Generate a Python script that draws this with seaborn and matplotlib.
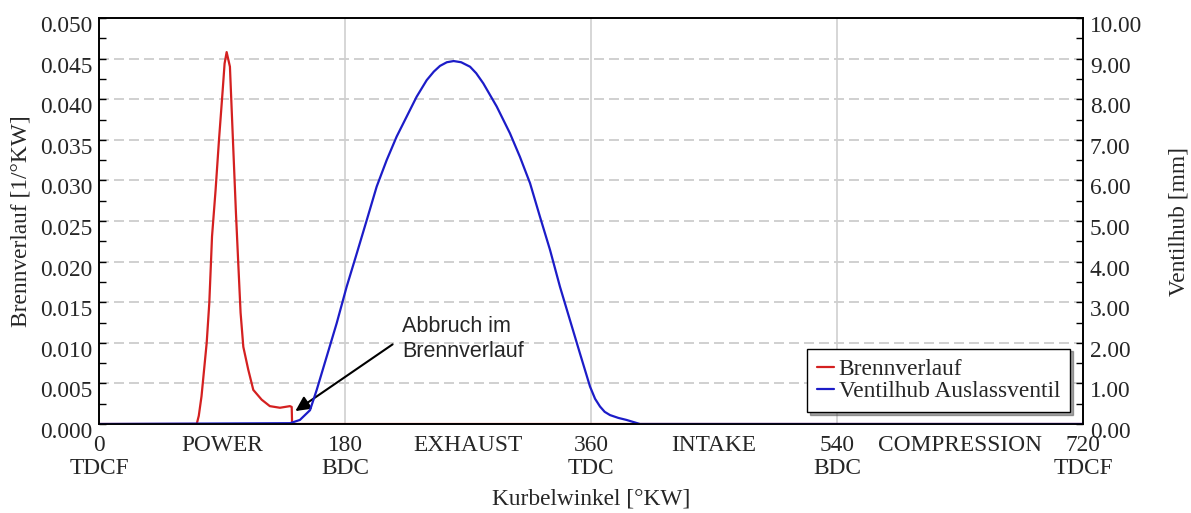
import numpy as np
import pandas as pd
import matplotlib
matplotlib.use("Agg")
import matplotlib.pyplot as plt
import matplotlib.transforms as mtransforms
from matplotlib.lines import Line2D
import seaborn as sns

# ---------------- data ----------------
burn_angle = [0, 71.5, 73.0, 75.0, 78.8, 80.7, 82.0, 82.7, 85.3, 87.8, 90.5, 91.9, 93.4,
              95.8, 97.7, 100.2, 101.9, 103.6, 105.6, 109.2, 112.9, 119.0, 125.0,
              132.4, 139.7, 141.0, 141.3, 720]
burn_rate = [0, 0, 0.0010, 0.0034, 0.0100, 0.0149, 0.0202, 0.0231, 0.0288, 0.0350, 0.0411,
             0.0444, 0.0458, 0.0440, 0.0362, 0.0260, 0.0198, 0.0137, 0.0095, 0.0067,
             0.0042, 0.0030, 0.0022, 0.0020, 0.0022, 0.0021, 0.0, 0.0]

lift_angle = [0, 139.8, 147.0, 154.4, 159.3, 166.6, 173.9, 181.2, 188.6, 195.9, 203.2,
              210.5, 217.8, 225.1, 232.4, 239.8, 245.0, 249.5, 254.5, 259.5, 265.0,
              271.5, 276.0, 281.2, 291.0, 300.7, 308.0, 315.4, 322.7, 330.0, 337.3,
              344.6, 351.9, 359.3, 363.0, 366.6, 370.0, 373.9, 380.0, 386.0, 395.8, 720]
valve_lift = [0, 0.02, 0.10, 0.34, 0.84, 1.66, 2.48, 3.38, 4.20, 5.02, 5.85, 6.50, 7.08,
              7.57, 8.06, 8.47, 8.68, 8.82, 8.91, 8.94, 8.91, 8.80, 8.64, 8.39, 7.82,
              7.16, 6.58, 5.93, 5.10, 4.29, 3.38, 2.56, 1.74, 0.92, 0.62, 0.43, 0.30,
              0.22, 0.15, 0.10, 0.0, 0.0]

x_tick_pos = [0, 90, 180, 270, 360, 450, 540, 630, 720]
x_tick_labels = ["0\nTDCF", "POWER", "180\nBDC", "EXHAUST", "360\nTDC",
                 "INTAKE", "540\nBDC", "COMPRESSION", "720\nTDCF"]
left_ticks = [0.000, 0.005, 0.010, 0.015, 0.020, 0.025, 0.030, 0.035, 0.040, 0.045, 0.050]
right_ticks = [0, 1, 2, 3, 4, 5, 6, 7, 8, 9, 10]
vlines_at = [180, 360, 540]

series_names = ["Brennverlauf", "Ventilhub Auslassventil"]
annot_text = "Abbruch im\nBrennverlauf"

df_burn = pd.DataFrame({"angle": burn_angle, "value": burn_rate})
df_lift = pd.DataFrame({"angle": lift_angle, "value": valve_lift})

# ---------------- style ----------------
sns.set_style("white")
plt.rcParams['font.family'] = ['Liberation Serif', 'DejaVu Serif']
plt.rcParams['axes.unicode_minus'] = False

RED = "#d42020"
BLUE = "#1c1cc8"
FS = 16.8

fig = plt.figure(figsize=(11.91, 5.13), dpi=100)
ax = fig.add_axes([99 / 1191, 1 - 424 / 513, (1083 - 99) / 1191, (424 - 18) / 513])
ax2 = ax.twinx()

sns.lineplot(data=df_burn, x="angle", y="value", ax=ax, color=RED, lw=1.6, sort=False)
sns.lineplot(data=df_lift, x="angle", y="value", ax=ax2, color=BLUE, lw=1.6, sort=False)

ax.set_xlim(0, 720)
ax.set_ylim(0, 0.05)
ax2.set_ylim(0, 10)

# grid
for y in left_ticks[1:-1]:
    ax.axhline(y, color="#c8c8c8", lw=1.2, ls=(0, (6, 3)), zorder=0)
for xv in vlines_at:
    ax.axvline(xv, color="#cfcfcf", lw=1.2, zorder=0)

# ticks
ax.set_xticks(x_tick_pos)
ax.set_xticklabels(x_tick_labels, fontsize=FS)
ax.set_xticks(np.arange(45, 720, 90), minor=True)
ax.set_yticks(left_ticks)
ax.set_yticklabels([f"{v:.3f}" for v in left_ticks], fontsize=FS)
ax.set_yticks(np.arange(0.0025, 0.05, 0.005), minor=True)
ax2.set_yticks(right_ticks)
ax2.set_yticklabels([f"{v:.2f}" for v in right_ticks], fontsize=FS)
ax2.set_yticks(np.arange(0.5, 10, 1.0), minor=True)

for a in (ax, ax2):
    a.tick_params(which="both", direction="in", length=5, width=1, color="black", pad=5)
    for s in a.spines.values():
        s.set_color("black")
        s.set_linewidth(1.2)
ax.tick_params(axis="x", pad=8)
for t in ax.get_xticklabels():
    t.set_linespacing(1.12)

# shift y tick labels slightly down like reference
offset = mtransforms.ScaledTranslation(0, -0.06, fig.dpi_scale_trans)
for t in ax.get_yticklabels() + ax2.get_yticklabels():
    t.set_transform(t.get_transform() + offset)

ax.set_xlabel("Kurbelwinkel [°KW]", fontsize=FS, labelpad=7)
ax.set_ylabel("Brennverlauf [1/°KW]", fontsize=FS, labelpad=6)
ax2.set_ylabel("Ventilhub [mm]", fontsize=FS, labelpad=19)

# annotation
ax.annotate("", xy=(142, 0.0014), xytext=(216.5, 0.0100),
            arrowprops=dict(arrowstyle="-|>", color="black", lw=1.5, mutation_scale=22))
ax.text(222, 0.0133, annot_text, fontsize=15.5, va="top", ha="left",
        family=["Liberation Sans", "DejaVu Sans"], linespacing=1.28)

# legend
handles = [Line2D([], [], color=RED, lw=1.6), Line2D([], [], color=BLUE, lw=1.6)]
leg = ax2.legend(handles, series_names, loc="lower right", bbox_to_anchor=(0.9868, 0.0296),
                 borderaxespad=0, fontsize=FS, handlelength=0.75, handletextpad=0.2,
                 labelspacing=0.05, borderpad=0.42, frameon=True, fancybox=False,
                 shadow=True, framealpha=1)
leg.get_frame().set_edgecolor("black")
leg.get_frame().set_linewidth(1.0)

fig.savefig("out.png", dpi=100)
